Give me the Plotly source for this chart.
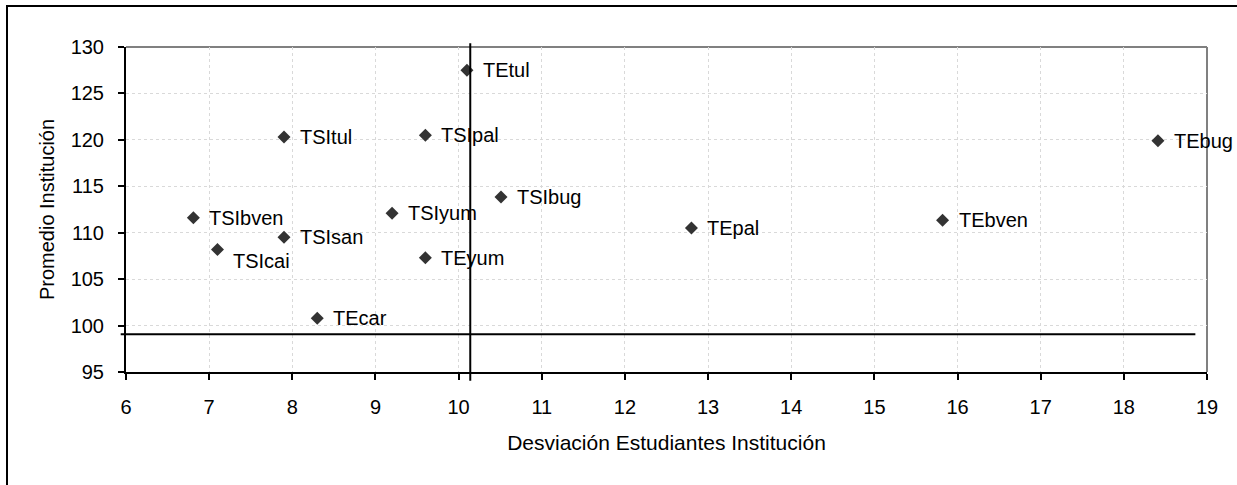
import plotly.graph_objects as go

# ---- data ----
labels = ["TEtul", "TSItul", "TSIpal", "TSIbug", "TSIyum", "TSIbven", "TSIsan",
          "TSIcai", "TEyum", "TEcar", "TEpal", "TEbven", "TEbug"]
desviacion = [10.10, 7.90, 9.60, 10.51, 9.20, 6.81, 7.90, 7.10, 9.60, 8.30, 12.80, 15.82, 18.41]
promedio = [127.5, 120.3, 120.5, 113.85, 112.1, 111.6, 109.5, 108.2, 107.3, 100.8, 110.5, 111.35, 119.9]

ref_x = 10.14      # vertical reference line
ref_y = 99.06      # horizontal reference line
ref_y_end = 18.86  # end of horizontal reference line

x_range = [6, 19]
y_range = [95, 130]
x_ticks = list(range(6, 20))
y_ticks = list(range(95, 131, 5))

W, H = 1237, 485
ML, MR, MT, MB = 126, 30, 47, 113
PW, PH = W - ML - MR, H - MT - MB
FONT = "Liberation Sans, Arial, sans-serif"


def px_x(px):
    return (px - ML) / PW


def px_y(py):
    return (H - MB - py) / PH


fig = go.Figure()
fig.add_trace(go.Scatter(
    x=desviacion, y=promedio, mode="markers",
    marker=dict(symbol="diamond", size=10, color="#333333"),
    hoverinfo="text", text=labels, showlegend=False, cliponaxis=False,
))

annotations = []
for lx, ly, lt in zip(desviacion, promedio, labels):
    dy = -12 if lt == "TSIcai" else 0
    annotations.append(dict(
        x=lx, y=ly, xref="x", yref="y", text=lt, showarrow=False,
        xanchor="left", yanchor="middle", xshift=14, yshift=dy,
        font=dict(family=FONT, size=20, color="black"),
    ))

shapes = [
    # outer frame (continues past the right and bottom edges)
    dict(type="rect", xref="paper", yref="paper",
         x0=px_x(7), x1=px_x(1300), y0=px_y(560), y1=px_y(6),
         line=dict(color="black", width=2), fillcolor="rgba(0,0,0,0)", layer="above"),
    # plot area top & right border (gray)
    dict(type="line", xref="paper", yref="paper", x0=0, x1=1, y0=1, y1=1,
         line=dict(color="#808080", width=2), layer="below"),
    dict(type="line", xref="paper", yref="paper", x0=1, x1=1, y0=0, y1=1,
         line=dict(color="#808080", width=2), layer="below"),
    # vertical reference line
    dict(type="line", xref="x", yref="paper", x0=ref_x, x1=ref_x,
         y0=px_y(380.7), y1=px_y(43.3), line=dict(color="black", width=2), layer="above"),
    # horizontal reference line
    dict(type="line", xref="paper", yref="y",
         x0=px_x(120.7), x1=(ref_y_end - x_range[0]) / (x_range[1] - x_range[0]),
         y0=ref_y, y1=ref_y, line=dict(color="black", width=2), layer="above"),
]

fig.update_layout(
    width=W, height=H,
    margin=dict(l=ML, r=MR, t=MT, b=MB, autoexpand=False),
    paper_bgcolor="white", plot_bgcolor="white",
    font=dict(family=FONT, size=20, color="black"),
    annotations=annotations, shapes=shapes,
    xaxis=dict(
        range=x_range, tickvals=x_ticks, ticks="outside", ticklen=6, tickwidth=2,
        tickcolor="black", showline=True, linecolor="black", linewidth=2,
        showgrid=True, gridcolor="#d9d9d9", gridwidth=1, griddash="dot",
        zeroline=False, tickfont=dict(size=20), ticklabelstandoff=10,
        title=dict(text="Desviación Estudiantes Institución", font=dict(size=21), standoff=18),
        automargin=False, fixedrange=True,
    ),
    yaxis=dict(
        range=y_range, tickvals=y_ticks, ticks="outside", ticklen=6, tickwidth=2,
        tickcolor="black", showline=True, linecolor="black", linewidth=2,
        showgrid=True, gridcolor="#d9d9d9", gridwidth=1, griddash="dot",
        zeroline=False, tickfont=dict(size=20), ticklabelstandoff=10,
        title=dict(text="Promedio Institución", font=dict(size=20), standoff=11),
        automargin=False, fixedrange=True,
    ),
)

fig.write_html(
    "out.html",
    config={"displayModeBar": False},
    post_script="document.body.style.margin='0';document.body.style.overflow='hidden';",
)
